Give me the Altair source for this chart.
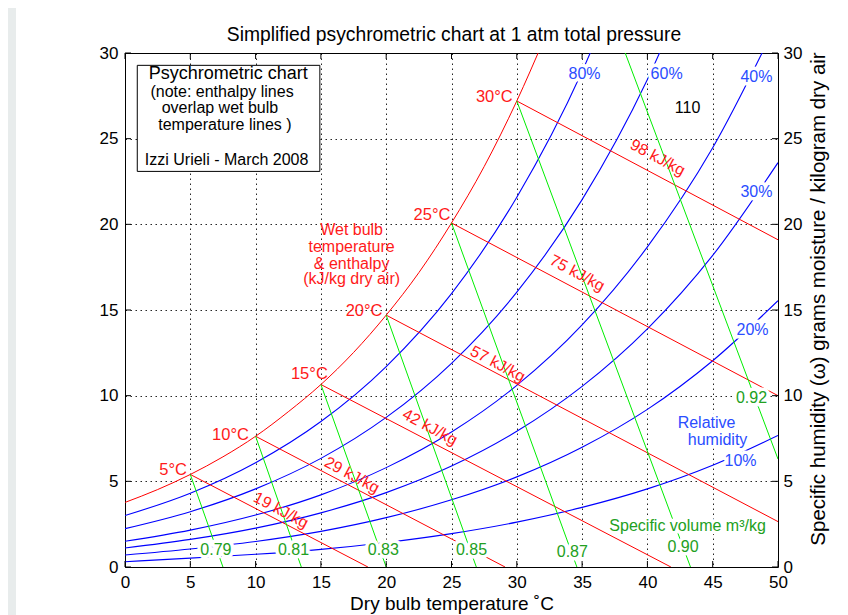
import altair as alt
import pandas as pd

FONT = "Liberation Sans"
W, H = 653, 514

# ---------------- data ----------------
tick_x = [0, 5, 10, 15, 20, 25, 30, 35, 40, 45, 50]
tick_y = [0, 5, 10, 15, 20, 25, 30]

# saturation curve (wet bulb = dry bulb), g/kg
sat_T = [0, 2.5, 5, 7.5, 10, 12.5, 15, 17.5, 20, 22.5, 25, 27.5, 30, 32]
sat_w = [3.77, 4.52, 5.40, 6.43, 7.63, 9.06, 10.65, 12.52, 14.70, 17.18, 20.08, 23.37, 27.20, 30.65]

# relative humidity curves
rh_T = [0, 5, 10, 15, 20, 25, 30, 35, 40, 45, 50]
rh80 = [3.00, 4.31, 6.09, 8.49, 11.70, 15.96, 21.58, 28.92, 38.5]
rh60 = [2.24, 3.23, 4.56, 6.34, 8.73, 11.89, 16.04, 21.44, 28.45, 37.5]
rh40 = [1.50, 2.15, 3.03, 4.21, 5.80, 7.88, 10.60, 14.13, 18.68, 24.47, 31.9]
rh30 = [1.11, 1.61, 2.27, 3.16, 4.34, 5.89, 7.92, 10.54, 13.90, 18.19, 23.60]
rh20 = [0.70, 1.05, 1.49, 2.08, 2.88, 3.92, 5.26, 6.99, 9.20, 12.04, 15.54]
rh10 = [0.31, 0.52, 0.74, 1.03, 1.43, 1.95, 2.62, 3.48, 4.56, 5.94, 7.68]
rh_names = ["80%", "60%", "40%", "30%", "20%", "10%"]
rh_vals = [rh80, rh60, rh40, rh30, rh20, rh10]

# wet bulb temperature / enthalpy lines
wb_T = [5, 10, 15, 20, 25, 30]
wb_w = [5.40, 7.63, 10.65, 14.70, 20.08, 27.20]
h_end_T = [18.6, 29.1, 41.8, 50, 50, 50]
h_end_w = [0, 0, 0, 2.65, 10.0, 19.1]
wb_labels = ["5°C", "10°C", "15°C", "20°C", "25°C", "30°C"]
wb_lab_x = [4.74, 9.49, 15.53, 19.72, 24.92, 29.69]
wb_lab_y = [5.65, 7.70, 11.26, 14.97, 20.57, 27.45]
h_labels = ["19 kJ/kg", "29 kJ/kg", "42 kJ/kg", "57 kJ/kg", "75 kJ/kg", "98 kJ/kg"]
h_lab_x = [11.94, 17.37, 23.34, 28.54, 34.62, 40.78]
h_lab_y = [3.31, 5.36, 8.16, 11.85, 17.15, 23.89]

# specific volume lines
v_start_T = [5, 10, 15, 20, 25, 30, 38.3]
v_start_w = [5.40, 7.63, 10.65, 14.70, 20.08, 27.20, 30.0]
v_end_T = [7.5, 13.5, 20.0, 26.9, 34.6, 43.3, 50]
v_end_w = [0, 0, 0, 0, 0, 0, 6.3]
v_labels = ["0.79", "0.81", "0.83", "0.85", "0.87", "0.90", "0.92", "Specific volume m³/kg"]
v_lab_x = [6.96, 12.90, 19.78, 26.53, 34.25, 42.73, 47.97, 43.08]
v_lab_y = [0.97, 0.97, 0.97, 0.97, 0.88, 1.17, 9.89, 2.38]

# relative humidity labels
rh_lab_text = ["80%", "60%", "40%", "30%", "20%", "10%", "Relative", "humidity"]
rh_lab_x = [35.19, 41.47, 48.35, 48.35, 48.05, 47.13, 44.53, 45.37]
rh_lab_y = [28.79, 28.79, 28.62, 21.90, 13.83, 6.18, 8.40, 7.41]

# red explanatory text
wb_note = ["Wet bulb", "temperature", "& enthalpy", "(kJ/kg dry air)"]
wb_note_x = [17.35, 17.35, 17.35, 17.35]
wb_note_y = [19.68, 18.70, 17.69, 16.80]

# note box
box_x = [0.94]
box_x2 = [14.92]
box_y = [23.09]
box_y2 = [29.28]
box_text = ["Psychrometric chart", "(note: enthalpy lines", "overlap wet bulb",
            "temperature lines )", "Izzi Urieli - March 2008"]
box_text_x = [7.91, 7.43, 7.27, 7.65, 7.78]
box_text_y = [28.80, 27.74, 26.79, 25.81, 23.77]
box_text_size = [18, 16, 16, 16, 16]

extra_text = ["110"]
extra_x = [43.08]
extra_y = [26.8]

TITLE = "Simplified psychrometric chart at 1 atm total pressure"
XTITLE = "Dry bulb temperature ˚C"
YTITLE = "Specific humidity (ω) grams moisture / kilogram dry air"

# ---------------- tables ----------------
sat_df = pd.DataFrame({"T": sat_T, "w": sat_w})
rh_rows = []
for name, vals in zip(rh_names, rh_vals):
    for t, w in zip(rh_T, vals):
        rh_rows.append({"rh": name, "T": t, "w": w})
rh_df = pd.DataFrame(rh_rows)


def seg_df(x0, y0, x1, y1):
    rows = []
    for i, (a, b, c, d) in enumerate(zip(x0, y0, x1, y1)):
        rows.append({"seg": i, "o": 0, "T": a, "w": b})
        rows.append({"seg": i, "o": 1, "T": c, "w": d})
    return pd.DataFrame(rows)


h_df = seg_df(wb_T, wb_w, h_end_T, h_end_w)
v_df = seg_df(v_start_T, v_start_w, v_end_T, v_end_w)

xs = alt.Scale(domain=[0, 50], nice=False, zero=False)
ys = alt.Scale(domain=[0, 30], nice=False, zero=False)

grid_kw = dict(grid=True, gridColor="#000000", gridDash=[1.5, 3.5], gridWidth=1, gridOpacity=0.85,
               ticks=False, domain=False, labelFont=FONT, labelFontSize=17, labelColor="#000000")
xaxis = alt.Axis(values=tick_x, title=XTITLE, labelPadding=7, titleFont=FONT, titleFontSize=19,
                 titleFontWeight="normal", titleColor="#000000", titlePadding=4, labelFlush=False, **grid_kw)
yaxis = alt.Axis(values=tick_y, title=None, labelPadding=7, labelFlush=False, **grid_kw)


def X(f):
    return alt.X(f, type="quantitative", scale=xs, axis=xaxis)


def Y(f):
    return alt.Y(f, type="quantitative", scale=ys, axis=yaxis)


def text_layer(texts, xv, yv, color, size=16, angle=0, align="center", halo=False, sizes=None):
    df = pd.DataFrame({"x": xv, "y": yv, "t": texts})
    if sizes is not None:
        df["s"] = sizes
    layers = []
    if halo:
        layers.append(alt.Chart(df).mark_text(font=FONT, fontSize=size, angle=angle, align=align,
                                              baseline="middle", color="white", stroke="white",
                                              strokeWidth=7, strokeJoin="round")
                      .encode(x=X("x"), y=Y("y"), text="t:N"))
    enc = dict(x=X("x"), y=Y("y"), text="t:N")
    if sizes is not None:
        enc["size"] = alt.Size("s:Q", scale=None, legend=None)
    layers.append(alt.Chart(df).mark_text(font=FONT, fontSize=size, angle=angle, align=align,
                                          baseline="middle", color=color).encode(**enc))
    return layers


box = alt.Chart(pd.DataFrame({"x": box_x, "x2": box_x2, "y": box_y, "y2": box_y2})).mark_rect(
    fill="white", stroke="black", strokeWidth=1).encode(x=X("x"), x2="x2", y=Y("y"), y2="y2")

sat = alt.Chart(sat_df).mark_line(color="#ff0000", strokeWidth=1, interpolate="monotone", clip=True).encode(
    x=X("T"), y=Y("w"))
rh = alt.Chart(rh_df).mark_line(color="#0000ff", strokeWidth=1.1, interpolate="monotone", clip=True).encode(
    x=X("T"), y=Y("w"), detail="rh:N")
hl = alt.Chart(h_df).mark_line(color="#ff0000", strokeWidth=1, clip=True).encode(
    x=X("T"), y=Y("w"), detail="seg:N", order="o:Q")
vl = alt.Chart(v_df).mark_line(color="#00ee00", strokeWidth=1, clip=True).encode(
    x=X("T"), y=Y("w"), detail="seg:N", order="o:Q")

tx_df = pd.DataFrame({"tx": tick_x})
ty_df = pd.DataFrame({"ty": tick_y})
tick_style = dict(color="black", strokeWidth=1)
ticks_bottom = alt.Chart(tx_df).mark_rule(**tick_style).encode(x=X("tx"), y=alt.value(H), y2=alt.value(H - 6))
ticks_top = alt.Chart(tx_df).mark_rule(**tick_style).encode(x=X("tx"), y=alt.value(0), y2=alt.value(6))
ticks_left = alt.Chart(ty_df).mark_rule(**tick_style).encode(y=Y("ty"), x=alt.value(0), x2=alt.value(6))

ytitle = alt.Chart(pd.DataFrame({"t": [YTITLE]})).mark_text(
    font=FONT, fontSize=20.5, angle=270, align="center", baseline="middle", color="black").encode(
    text="t:N", x=alt.value(W + 41), y=alt.value(246))

top_title = alt.Chart(pd.DataFrame({"t": [TITLE]})).mark_text(
    font=FONT, fontSize=19.3, align="center", baseline="middle", color="black").encode(
    text="t:N", x=alt.value(W / 2 + 2.5), y=alt.value(-18))

# light grey strip at the page's left edge (screenshot frame)
strip = alt.Chart(pd.DataFrame({"k": [0]})).mark_rect(color="#e8ecec", clip=False).encode(
    x=alt.value(-117), x2=alt.value(-109), y=alt.value(-45), y2=alt.value(H + 48))

layers = [strip, box, sat, rh, hl, vl]
layers += text_layer(wb_labels, wb_lab_x, wb_lab_y, "#ff1a1a", size=16.5, align="right")
layers += text_layer(h_labels, h_lab_x, h_lab_y, "#ff1a1a", size=16, angle=28)
layers += text_layer(wb_note, wb_note_x, wb_note_y, "#ff1a1a", size=16)
layers += text_layer(v_labels, v_lab_x, v_lab_y, "#22a022", size=16, halo=True)
layers += text_layer(rh_lab_text, rh_lab_x, rh_lab_y, "#2a4dff", size=16, halo=True)
layers += text_layer(extra_text, extra_x, extra_y, "#000000", size=16)
layers += text_layer(box_text, box_text_x, box_text_y, "#000000", size=16, sizes=box_text_size)
layers += [ticks_bottom, ticks_top, ticks_left, ytitle, top_title]

main = alt.layer(*layers)

ticks_right = alt.Chart(ty_df).mark_rule(**tick_style).encode(
    y=alt.Y("ty:Q", scale=ys, axis=alt.Axis(orient="right", values=tick_y, title=None, grid=False, ticks=False,
                                             domain=False, labelFont=FONT, labelFontSize=17,
                                             labelColor="#000000", labelPadding=5, labelFlush=False)),
    x=alt.value(W), x2=alt.value(W - 6))

chart = alt.layer(main, ticks_right).resolve_scale(y="independent").properties(
    width=W, height=H,
    autosize=alt.AutoSizeParams(type="none"),
    padding={"left": 117, "top": 45, "right": 62, "bottom": 48},
    background="white",
).configure_view(stroke="black", strokeWidth=1)

chart.save("out.html", embed_options={"renderer": "svg", "actions": False})
